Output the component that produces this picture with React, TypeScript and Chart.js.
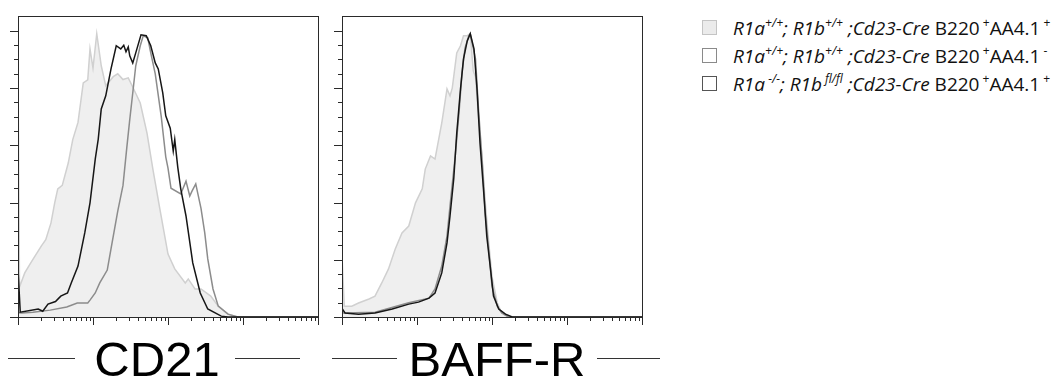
import React, { useEffect, useRef } from "react";
import { Chart, registerables } from "chart.js";

Chart.register(...registerables);

// ---- axis definitions (x in log10 decades, y in % of max) ----
const Y_MAX = 105.2;
const yMajorTicks = [0, 20, 40, 60, 80, 100];
const yMinorTicks = [5, 10, 15, 25, 30, 35, 45, 50, 55, 65, 70, 75, 85, 90, 95];
const xDecades = [0, 1, 2, 3, 4];
const xMinorMultipliers = [2, 3, 4, 5, 6, 7, 8, 9];

// ---- CD21 panel ----
const cd21LightX = [0, 0.02, 0.09, 0.17, 0.31, 0.37, 0.44, 0.49, 0.53, 0.59, 0.67, 0.73, 0.8, 0.87, 0.93, 0.96, 1.0, 1.05, 1.11, 1.17, 1.27, 1.33, 1.4, 1.47, 1.53, 1.63, 1.72, 1.8, 1.89, 2.0, 2.09, 2.23, 2.27, 2.36, 2.44, 2.57, 2.67, 2.8, 2.93, 4];
const cd21LightY = [87, 10.5, 15.4, 18.9, 24.8, 27, 32.9, 40, 44.8, 46, 53.8, 62, 68, 81.8, 82.9, 93.7, 87, 99, 87.8, 80.8, 84, 85, 83, 83.6, 80.4, 74.8, 64.3, 51.4, 38, 22, 16.8, 11.9, 13.3, 9.8, 9.8, 7.3, 3.8, 1, 0, 0];

const cd21GrayX = [0, 0.05, 0.2, 0.43, 0.65, 0.79, 0.93, 0.96, 1.03, 1.09, 1.19, 1.24, 1.33, 1.4, 1.45, 1.49, 1.53, 1.57, 1.63, 1.67, 1.73, 1.77, 1.83, 1.91, 1.97, 2.0, 2.04, 2.17, 2.24, 2.29, 2.32, 2.37, 2.44, 2.49, 2.53, 2.6, 2.67, 2.8, 2.93, 4];
const cd21GrayY = [1.5, 1.4, 1.7, 2.4, 3.5, 4.9, 4.9, 5.9, 8.4, 11.9, 16.4, 23.8, 37, 46, 59, 69, 78.3, 87.8, 94.8, 98.3, 97.6, 92.3, 85, 70, 56, 52, 45, 43, 47.5, 42.3, 44, 46.5, 38, 29.4, 20.3, 9.8, 3.8, 1, 0, 0];

const cd21BlackX = [0, 0.03, 0.27, 0.33, 0.4, 0.5, 0.57, 0.66, 0.71, 0.8, 0.89, 0.96, 1.03, 1.07, 1.11, 1.17, 1.24, 1.31, 1.37, 1.41, 1.44, 1.47, 1.49, 1.53, 1.57, 1.64, 1.71, 1.77, 1.83, 1.87, 1.93, 1.97, 2.03, 2.07, 2.09, 2.13, 2.17, 2.24, 2.33, 2.43, 2.53, 2.71, 2.8, 4];
const cd21BlackY = [16.8, 1.7, 2.8, 2.0, 4.5, 5.4, 7.3, 8.4, 11.9, 17.8, 29.4, 39.9, 55.2, 62.2, 72.7, 77.3, 86.7, 94.8, 93.7, 95, 92.7, 94.4, 91.3, 88.8, 92.3, 98.6, 98.3, 94.8, 88.8, 86.7, 78.3, 70.3, 66, 58, 62, 52.4, 44.8, 35.3, 18.9, 8.4, 2.8, 0.3, 0, 0];

// ---- BAFF-R panel ----
const baffLightX = [0, 0.03, 0.07, 0.13, 0.22, 0.36, 0.44, 0.53, 0.62, 0.71, 0.8, 0.89, 0.98, 1.07, 1.11, 1.18, 1.24, 1.29, 1.33, 1.4, 1.44, 1.47, 1.53, 1.58, 1.62, 1.67, 1.71, 1.75, 1.78, 1.82, 1.87, 1.91, 1.96, 2.0, 2.07, 2.13, 2.22, 4];
const baffLightY = [21.3, 3.8, 3.8, 3.8, 4.9, 6.3, 7.3, 11.9, 16.8, 23.8, 29.4, 31.8, 39.9, 44.8, 51.7, 56.3, 55.2, 62.2, 67.8, 79.7, 77.3, 80, 92.3, 94.8, 98.3, 98.3, 99, 86, 84, 70, 55, 40, 25, 14, 5, 1.4, 0, 0];

const baffGrayX = [0, 0.04, 0.44, 0.89, 1.16, 1.24, 1.33, 1.4, 1.44, 1.51, 1.56, 1.6, 1.64, 1.69, 1.71, 1.78, 1.82, 1.87, 1.91, 1.96, 2.0, 2.07, 2.13, 2.22, 4];
const baffGrayY = [1.4, 1.4, 1.7, 5, 6.6, 9.8, 17.8, 28.3, 38.8, 56.3, 71.3, 85.3, 94, 98.3, 99, 90.2, 72.7, 53.8, 36.4, 22.4, 10.8, 3.8, 1.4, 0, 0];

const baffBlackX = [0, 0.04, 0.22, 0.44, 0.67, 0.89, 1.02, 1.16, 1.24, 1.33, 1.4, 1.44, 1.49, 1.53, 1.58, 1.62, 1.67, 1.71, 1.76, 1.8, 1.84, 1.89, 1.93, 1.98, 2.02, 2.09, 2.18, 2.27, 4];
const baffBlackY = [3, 1.4, 1, 1.4, 2.8, 4.5, 5.2, 6.6, 8.4, 15.4, 25.9, 35.3, 48.3, 64.3, 79.7, 90.2, 96.5, 99, 93.7, 79.7, 60.8, 43.4, 28.3, 16.8, 7.3, 2.8, 1, 0, 0];

// ---- legend ----
const legendAa4Sign = ["+", "-", "+"];
const legendR1aSup = ["+/+", "+/+", " -/-"];
const legendR1bSup = ["+/+", "+/+", " fl/fl"];

const LIGHT_FILL = "#efefef";
const LIGHT_LINE = "#d0d0d0";
const GRAY_LINE = "#8c8c8c";
const BLACK_LINE = "#161616";

const legendBoxFill = ["#ebebeb", "#ffffff", "#ffffff"];
const legendBoxBorder = ["#c4c4c4", "#8a8a8a", "#555555"];

const toPoints = (xs: number[], ys: number[]) => xs.map((x, i) => ({ x, y: ys[i] }));

const frameTicks = {
  id: "frameTicks",
  afterDraw(chart: any) {
    const { ctx, chartArea: a, scales } = chart;
    const xs = scales.x;
    const ys = scales.y;
    ctx.save();
    ctx.strokeStyle = "#2a2a2a";
    ctx.lineWidth = 1;
    ctx.strokeRect(a.left + 0.5, a.top + 0.5, a.right - a.left, a.bottom - a.top);
    ctx.beginPath();
    const yTick = (v: number, len: number) => {
      const p = Math.round(ys.getPixelForValue(v)) + 0.5;
      ctx.moveTo(a.left - len, p);
      ctx.lineTo(a.left, p);
    };
    yMajorTicks.forEach((v) => yTick(v, 8));
    yMinorTicks.forEach((v) => yTick(v, 4));
    const xTick = (v: number, len: number) => {
      const p = Math.round(xs.getPixelForValue(v)) + 0.5;
      ctx.moveTo(p, a.bottom);
      ctx.lineTo(p, a.bottom + len);
    };
    xDecades.forEach((d) => xTick(d, 8));
    xDecades.slice(0, -1).forEach((d) =>
      xMinorMultipliers.forEach((m) => xTick(d + Math.log10(m), 4))
    );
    ctx.stroke();
    ctx.restore();
  },
};

function Histogram({
  left,
  padLeft,
  padRight,
  light,
  gray,
  black,
}: {
  left: number;
  padLeft: number;
  padRight: number;
  light: { x: number; y: number }[];
  gray: { x: number; y: number }[];
  black: { x: number; y: number }[];
}) {
  const ref = useRef<HTMLCanvasElement | null>(null);
  useEffect(() => {
    if (!ref.current) return;
    const chart = new Chart(ref.current, {
      type: "line",
      data: {
        datasets: [
          { data: black, borderColor: BLACK_LINE, borderWidth: 1.5, fill: false, pointRadius: 0, tension: 0 },
          { data: gray, borderColor: GRAY_LINE, borderWidth: 1.5, fill: false, pointRadius: 0, tension: 0 },
          {
            data: light,
            borderColor: LIGHT_LINE,
            backgroundColor: LIGHT_FILL,
            borderWidth: 1.5,
            fill: "origin",
            pointRadius: 0,
            tension: 0,
          },
        ],
      },
      options: {
        responsive: false,
        animation: false,
        events: [],
        layout: { padding: { left: padLeft, right: padRight, top: 16, bottom: 13 } },
        plugins: { legend: { display: false }, tooltip: { enabled: false } },
        scales: {
          x: { type: "linear", min: 0, max: 4, display: false },
          y: { type: "linear", min: 0, max: Y_MAX, display: false },
        },
      },
      plugins: [frameTicks],
    });
    return () => chart.destroy();
  }, []);
  return (
    <canvas
      ref={ref}
      width={330}
      height={330}
      style={{ position: "absolute", left, top: 0, width: 330, height: 330 }}
    />
  );
}

const supStyle: React.CSSProperties = {
  fontSize: 12,
  position: "relative",
  top: -8,
};

function AxisLabel({ text, center, lineL, lineR }: { text: string; center: number; lineL: [number, number]; lineR: [number, number] }) {
  return (
    <>
      <div style={{ position: "absolute", left: lineL[0], top: 358, width: lineL[1] - lineL[0], height: 1, background: "#333" }} />
      <div style={{ position: "absolute", left: lineR[0], top: 358, width: lineR[1] - lineR[0], height: 1, background: "#333" }} />
      <div
        style={{
          position: "absolute",
          left: center - 150,
          width: 300,
          top: 335,
          textAlign: "center",
          fontFamily: "'Liberation Sans', Arial, sans-serif",
          fontSize: 49,
          lineHeight: "49px",
          color: "#000",
          whiteSpace: "nowrap",
        }}
      >
        {text}
      </div>
    </>
  );
}

export default function App() {
  return (
    <div
      style={{
        position: "absolute",
        left: 0,
        top: 0,
        width: 1060,
        height: 376,
        overflow: "hidden",
        background: "#fff",
      }}
    >
      <Histogram
        left={0}
        padLeft={18}
        padRight={12}
        light={toPoints(cd21LightX, cd21LightY)}
        gray={toPoints(cd21GrayX, cd21GrayY)}
        black={toPoints(cd21BlackX, cd21BlackY)}
      />
      <Histogram
        left={330}
        padLeft={12}
        padRight={18}
        light={toPoints(baffLightX, baffLightY)}
        gray={toPoints(baffGrayX, baffGrayY)}
        black={toPoints(baffBlackX, baffBlackY)}
      />
      <AxisLabel text="CD21" center={157} lineL={[8, 75]} lineR={[235, 300]} />
      <AxisLabel text="BAFF-R" center={497} lineL={[332, 397]} lineR={[597, 660]} />
      {legendAa4Sign.map((sign, i) => (
        <React.Fragment key={i}>
          <div
            style={{
              position: "absolute",
              left: 702,
              top: 20 + 28 * i,
              width: 13,
              height: 13,
              background: legendBoxFill[i],
              border: `1px solid ${legendBoxBorder[i]}`,
            }}
          />
          <div
            style={{
              position: "absolute",
              left: 733,
              top: 19 + 28 * i,
              fontFamily: "'Open Sans', 'Noto Sans', sans-serif",
              fontSize: 19,
              lineHeight: "18px",
              color: "#111",
              whiteSpace: "pre",
            }}
          >
            <i>R1a</i>
            <i style={supStyle}>{legendR1aSup[i]}</i>
            <i>; R1b</i>
            <i style={supStyle}>{legendR1bSup[i]}</i>
            <i> ;Cd23-Cre</i>
            <span> B220</span>
            <span style={supStyle}> +</span>
            <span>AA4.1</span>
            <span style={supStyle}> {sign}</span>
          </div>
        </React.Fragment>
      ))}
    </div>
  );
}
